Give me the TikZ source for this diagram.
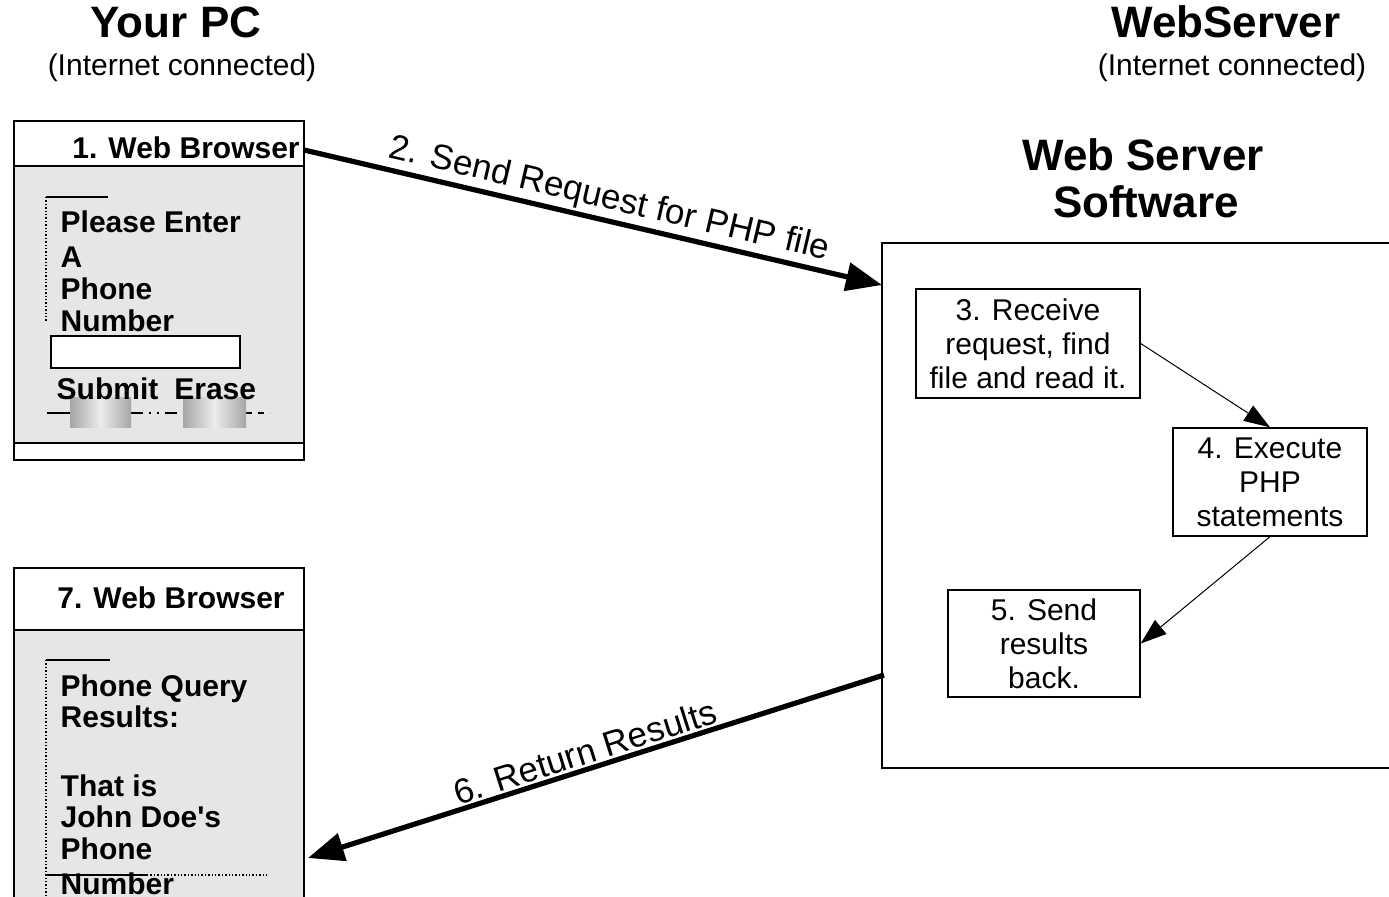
\documentclass[tikz,border=0pt]{standalone}
\usepackage{fontspec}
\setmainfont{Liberation Sans}
\usetikzlibrary{arrows.meta}

\definecolor{formgray}{RGB}{230,230,230}
\tikzset{
  title/.style={font=\fontsize{22}{25}\selectfont\bfseries, anchor=base, inner sep=0pt},
  note/.style={font=\fontsize{15}{18}\selectfont, anchor=base, inner sep=0pt},
  formtext/.style={font=\fontsize{15}{17}\selectfont\bfseries, anchor=base west, inner sep=0pt},
  stepbox/.style={draw, align=center, inner sep=0pt, line width=0.7pt,
    font=\fontsize{15}{17}\selectfont},
  bigarrow/.style={line width=2.6pt, -{Triangle[length=18pt,width=14pt]}},
  smallarrow/.style={line width=0.5pt, -{Triangle[length=13pt,width=9pt]}},
  arrowlabel/.style={font=\fontsize{17.5}{20}\selectfont, sloped, above, inner sep=1pt},
  button/.style={shading=axis, left color=gray!70, right color=gray!70, middle color=gray!15},
}

\begin{document}
\begin{tikzpicture}[x=0.5pt,y=-0.5pt,line width=0.7pt]
  \clip (0,0) rectangle (1389,897);

  % titles
  \node[title] (yourpc) at (176,38) {Your PC};
  \node[note] (pcnote) at (182,76) {(Internet connected)};
  \node[title] (websrv) at (1226,38) {WebServer};
  \node[note] (srvnote) at (1232,76) {(Internet connected)};
  \node[title] (swtitle1) at (1143,171) {Web Server};
  \node[title] (swtitle2) at (1146,218) {Software};

  % first browser window
  \draw (14,121) rectangle (304,460);
  \filldraw[fill=formgray] (14,166) rectangle (304,443);
  \node[formtext, anchor=base] (hdr1) at (186,159) {1. Web Browser};
  \draw (46,197) -- (108,197);
  \draw[densely dotted] (46,197) -- (46,322);
  \foreach \txt/\y in {Please Enter/233, A/268, Phone/300, Number/332}
    \node[formtext] at (60,\y) {\txt};
  \filldraw[fill=white] (51,336) rectangle (240,368);
  \draw (47,413) -- (70,413);
  \draw[dash pattern=on 6pt off 3pt on 1pt off 3pt on 1pt off 3pt] (131,413) -- (183,413);
  \draw[dashed] (246,413) -- (270,413);
  \shade[button] (70,398) rectangle (131,428);
  \shade[button] (183,398) rectangle (246,428);
  \node[formtext] (submit) at (56,400) {Submit\hspace{8pt}Erase};

  % second browser window
  \draw (14,568) rectangle (304,920);
  \filldraw[fill=formgray] (14,630) rectangle (304,920);
  \node[formtext, anchor=base] (hdr7) at (171,609) {7. Web Browser};
  \draw (46,660) -- (110,660);
  \draw[densely dotted] (46,660) -- (46,920);
  \foreach \txt/\y in {Phone Query/697, Results:/728, That is/797, John Doe\textquotesingle s/828, Phone/860, Number/895}
    \node[formtext] at (60,\y) {\txt};
  \draw (46,875) -- (147,875);
  \draw[densely dotted] (147,875) -- (268,875);

  % web server
  \node[draw, inner sep=0pt, minimum width=256.5pt, minimum height=262.5pt] (srv) at (1138.5,505.5) {};
  \node[stepbox, minimum width=112pt, minimum height=54.5pt] (box3) at (1028,343.5)
    {3. Receive\\ request, find\\ file and read it.};
  \node[stepbox, minimum width=97pt, minimum height=54pt] (box4) at (1270,482)
    {4. Execute\\ PHP\\ statements};
  \node[stepbox, minimum width=96pt, minimum height=53.5pt] (box5) at (1044,643.5)
    {5. Send\\ results\\ back.};

  \draw[smallarrow] (box3.east) -- (box4.north);
  \draw[smallarrow] (box4.south) -- (box5.east);

  % request and response
  \coordinate (reqstart) at (304,150);
  \coordinate (reqend) at (882,285);
  \coordinate (resstart) at (884,675);
  \coordinate (resend) at (308,858);
  \draw[bigarrow] (reqstart) -- node[arrowlabel, pos=0.52] {2. Send Request for PHP file} (reqend);
  \draw[bigarrow] (resstart) -- node[arrowlabel, pos=0.51] {6. Return Results} (resend);
\end{tikzpicture}
\end{document}
